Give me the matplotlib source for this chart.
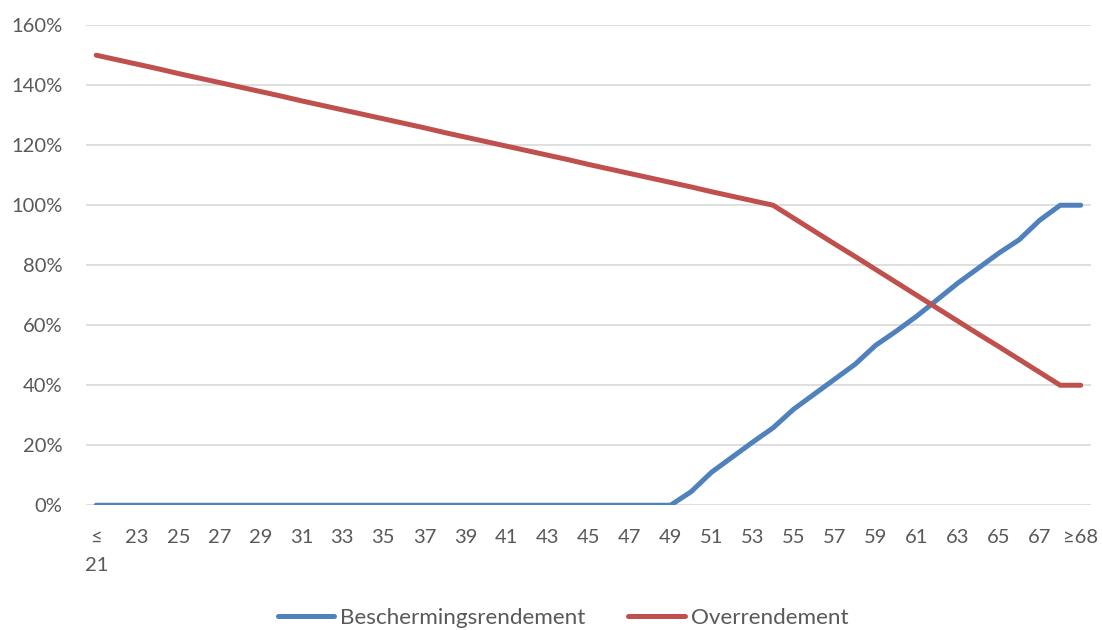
import numpy as np
import matplotlib.pyplot as plt
from matplotlib.ticker import FuncFormatter

plt.rcParams['font.family'] = ['Lato', 'DejaVu Sans']

# leeftijden: <=21, 22 .. 68, >=68
ages = ["≤\n21"] + [str(a) for a in range(22, 69)] + ["≥68"]

bescherming = [0] * 29 + [
    4.5, 11, 16, 21, 25.8, 32, 37, 42, 47, 53.3,
    58, 63, 68.5, 74, 79, 84, 88.5, 95, 100, 100,
]

overrendement = [
    150, 148.5, 147, 145.5, 143.9, 142.4, 140.9, 139.4, 137.9, 136.4,
    134.8, 133.3, 131.8, 130.3, 128.8, 127.3, 125.8, 124.2, 122.7, 121.2,
    119.7, 118.2, 116.7, 115.2, 113.6, 112.1, 110.6, 109.1, 107.6, 106.1,
    104.5, 103.0, 101.5, 100,
    95.7, 91.4, 87.1, 82.9, 78.6, 74.3, 70, 65.7, 61.4, 57.1,
    52.9, 48.6, 44.3, 40,
    40,
]

blauw = "#4F81BD"
rood = "#C0504D"
grijs = "#595959"

fig = plt.figure(figsize=(11.02, 6.3), dpi=100)
ax = fig.add_axes([0.078, 0.198, 0.912, 0.762])

x = np.arange(len(ages))
ax.plot(x, np.array(bescherming) / 100, color=blauw, lw=3.6,
        solid_capstyle="round", solid_joinstyle="round", label="Beschermingsrendement")
ax.plot(x, np.array(overrendement) / 100, color=rood, lw=3.6,
        solid_capstyle="round", solid_joinstyle="round", label="Overrendement")

ax.set_xlim(-0.5, len(ages) - 0.5)
ax.set_ylim(0, 1.6)
ax.set_yticks(np.arange(0, 1.61, 0.2))
ax.yaxis.set_major_formatter(FuncFormatter(lambda v, p: f"{v * 100:.0f}%"))

tick_pos = list(range(0, len(ages), 2))
ax.set_xticks(tick_pos)
ax.set_xticklabels([ages[i] for i in tick_pos], linespacing=1.8)

ax.grid(axis="y", color="#D9D9D9", lw=1.2)
ax.set_axisbelow(True)
for s in ax.spines.values():
    s.set_visible(False)
ax.tick_params(length=0, labelsize=14.5, colors=grijs)
ax.tick_params(axis="y", pad=17)
ax.tick_params(axis="x", pad=17)

leg = fig.legend(loc="center", bbox_to_anchor=(0.511, 0.019), ncol=2,
                 frameon=False, fontsize=16.2, handlelength=2.5,
                 handletextpad=0.27, columnspacing=1.9)
for t in leg.get_texts():
    t.set_color(grijs)

fig.savefig("out.png", dpi=100)
